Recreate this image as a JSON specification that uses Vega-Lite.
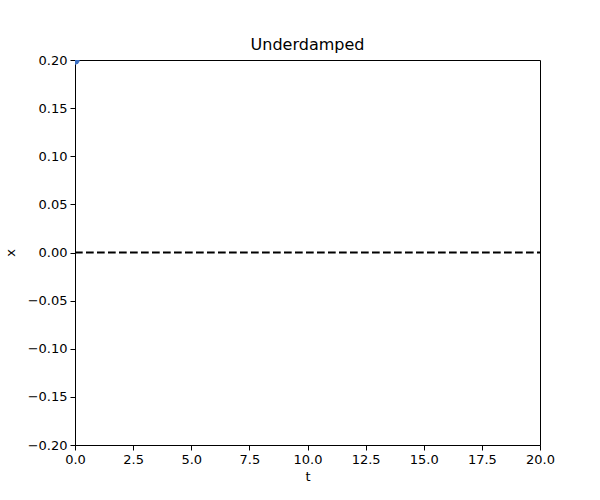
{
  "$schema": "https://vega.github.io/schema/vega-lite/v6.json",
  "autosize": {"type": "none"},
  "width": 465,
  "height": 385,
  "padding": {"left": 75, "top": 60, "right": 60, "bottom": 55},
  "background": "white",
  "title": {"text": "Underdamped", "font": "DejaVu Sans", "fontSize": 16, "fontWeight": "normal", "color": "black", "offset": 1},
  "config": {
    "view": {"stroke": "black", "strokeWidth": 1},
    "axis": {
      "grid": false,
      "domainColor": "black",
      "tickColor": "black",
      "tickSize": 5,
      "labelFlush": false,
      "labelFont": "DejaVu Sans",
      "labelFontSize": 13,
      "labelColor": "black",
      "titleFont": "DejaVu Sans",
      "titleFontSize": 13,
      "titleFontWeight": "normal",
      "titleColor": "black",
      "labelPadding": 3
    }
  },
  "datasets": {
    "eq": [{"t": 0, "x": 0}, {"t": 20, "x": 0}],
    "pos": [{"t": 0, "x": 0.2}]
  },
  "layer": [
    {
      "data": {"name": "eq"},
      "mark": {"type": "line", "color": "black", "strokeWidth": 2, "strokeDash": [7.7, 3.3]},
      "encoding": {
        "x": {"field": "t", "type": "quantitative", "scale": {"domain": [0, 20], "nice": false}, "axis": {"title": "t", "values": [0, 2.5, 5, 7.5, 10, 12.5, 15, 17.5, 20], "format": ".1f", "titlePadding": 4}},
        "y": {"field": "x", "type": "quantitative", "scale": {"domain": [-0.2, 0.2], "nice": false, "zero": false}, "axis": {"title": "x", "values": [-0.2, -0.15, -0.1, -0.05, 0, 0.05, 0.1, 0.15, 0.2], "format": ".2f", "titlePadding": 10}}
      }
    },
    {
      "data": {"name": "pos"},
      "mark": {"type": "circle", "color": "#3b6fc4", "size": 90, "opacity": 1, "clip": true},
      "encoding": {
        "x": {"field": "t", "type": "quantitative"},
        "y": {"field": "x", "type": "quantitative"}
      }
    }
  ]
}
